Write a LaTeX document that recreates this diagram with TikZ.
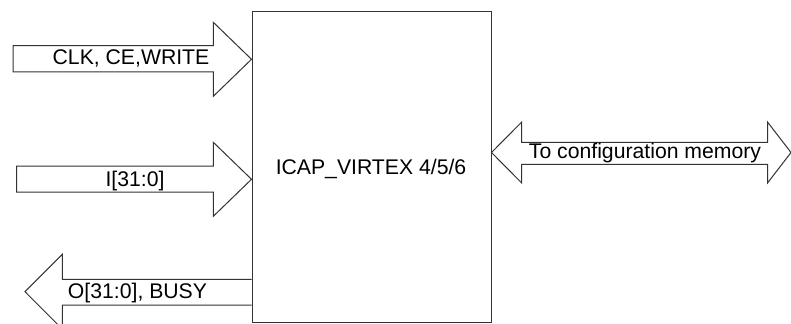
\documentclass[tikz,border=0pt]{standalone}
\usepackage{fontspec}
\setmainfont{Liberation Sans}
\begin{document}
\begin{tikzpicture}[x=0.75pt, y=-0.75pt, line width=0.75pt,
  bus/.style={draw=black!80, fill=white, line join=miter},
  lbl/.style={font=\fontsize{15.9}{18}\selectfont, inner sep=0pt, anchor=base}]
  \useasboundingbox (0,0) rectangle (791,324);
  % the ICAP block
  \node[draw=black!80, minimum width=179.25pt, minimum height=232.5pt, inner sep=0pt] (icap) at (371.5,167) {};
  \node[lbl] (icaplbl) at (371,174) {ICAP\_VIRTEX 4/5/6};
  % inputs
  \draw[bus] (13,45.7) -- (213.3,45.7) -- (213.3,22.3) -- (icap.west |- 0,59.3)
    -- (213.3,96.3) -- (213.3,72) -- (13,72) -- cycle;
  \node[lbl] (ctrl) at (131,65) {CLK, CE,WRITE};
  \draw[bus] (16.7,166) -- (213.3,166) -- (213.3,142.3) -- (icap.west |- 0,179.3)
    -- (213.3,216.3) -- (213.3,192) -- (16.7,192) -- cycle;
  \node[lbl] (din) at (135,186) {I[31:0]};
  % output
  \draw[bus] (icap.west |- 0,279.3) -- (62.3,279.3) -- (62.3,254.3) -- (25,291.7)
    -- (62.3,329.1) -- (62.3,305) -- (icap.west |- 0,305);
  \node[lbl] (dout) at (137.5,298.5) {O[31:0], BUSY};
  % link to configuration memory
  \draw[bus] (icap.east |- 0,152.5) -- (521.7,122) -- (521.7,142.3) -- (767.5,142.3)
    -- (767.5,122) -- (791,152.5) -- (767.5,183) -- (767.5,164.3)
    -- (521.7,164.3) -- (521.7,183) -- cycle;
  \node[lbl] (cfg) at (645,158.5) {To configuration memory};
\end{tikzpicture}
\end{document}
